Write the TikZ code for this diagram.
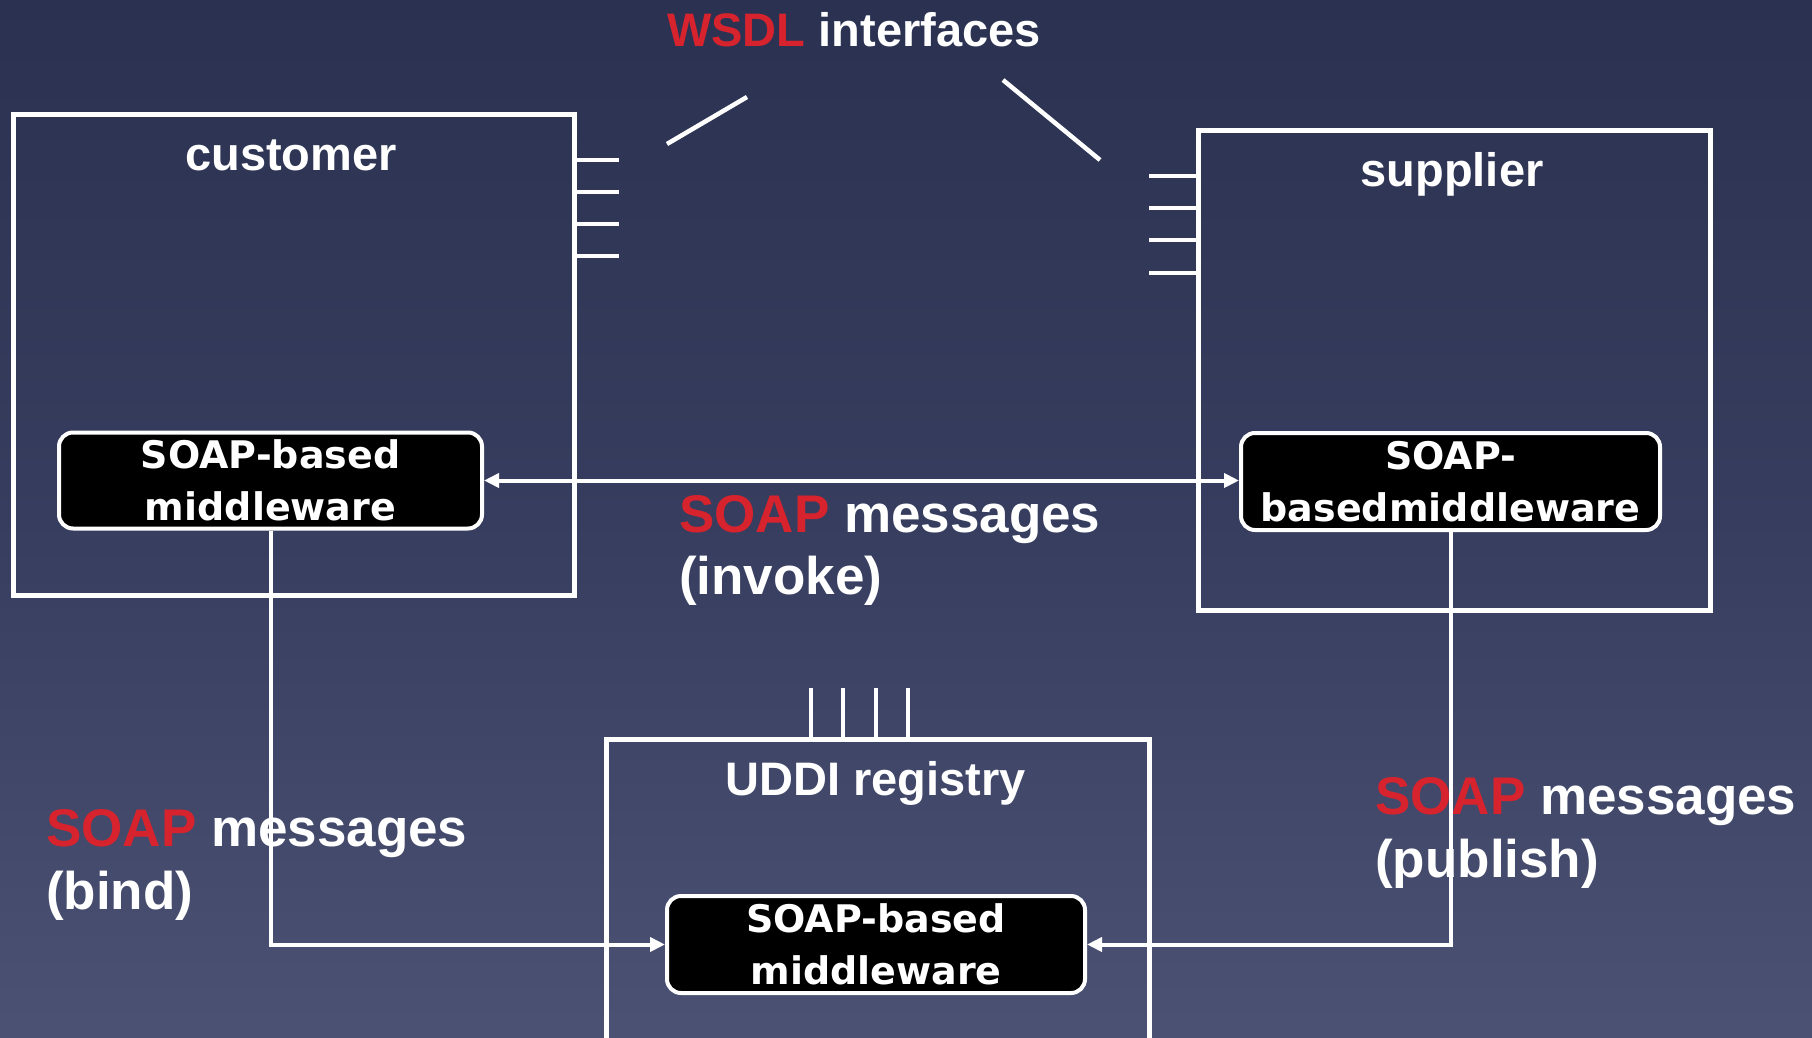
\documentclass[tikz,border=0pt]{standalone}
\usepackage{fontspec}
\setmainfont{Liberation Sans}
\newfontfamily\mwfont{DejaVu Sans}
\usetikzlibrary{arrows.meta}
\definecolor{soapred}{RGB}{215,35,45}
\definecolor{bgtop}{RGB}{32,39,68}
\definecolor{bgmid}{RGB}{54,61,94}
\definecolor{bgbot}{RGB}{96,102,136}
\pgfdeclareverticalshading{bgshade}{100bp}{color(0bp)=(bgbot); color(50bp)=(bgmid); color(100bp)=(bgtop)}
\tikzset{
  sysbox/.style={draw=white, line width=5pt, inner sep=0pt, anchor=north west},
  tick/.style={draw=white, line width=4.5pt},
  mwbox/.style={draw=white, fill=black, line width=4pt, rounded corners=14pt,
    text=white, align=center, inner sep=0pt,
    font=\mwfont\bfseries\fontsize{38}{52}\selectfont},
  conn/.style={draw=white, line width=4pt, >={Triangle[length=15pt,width=14pt]}},
  title/.style={text=white, inner sep=0pt, font=\bfseries\fontsize{47}{56}\selectfont},
  msg/.style={text=white, inner sep=0pt, anchor=base west, font=\bfseries\fontsize{53}{62}\selectfont}
}
\begin{document}
\begin{tikzpicture}[x=1pt,y=-1pt]
  \useasboundingbox (0,0) rectangle (1812,1038);
  \shade[shading=bgshade] (0,0) rectangle (1812,1038);
  \clip (0,0) rectangle (1812,1038);

  % heading and its two pointer strokes
  \node[title, anchor=base west] (wsdl) at (667,47) {\textcolor{soapred}{WSDL} interfaces};
  \coordinate (pl1) at (667,144);
  \coordinate (pl2) at (747,97);
  \coordinate (pr1) at (1003,80);
  \coordinate (pr2) at (1100,160);
  \draw[tick] (pl1) -- (pl2);
  \draw[tick] (pr1) -- (pr2);

  % customer
  \node[sysbox, minimum width=561pt, minimum height=481pt] (cust) at (11,112) {};
  \node[title, anchor=base] (custlbl) at (291,170) {customer};
  \foreach \y in {160,192,224,256}
    \draw[tick] (572,\y) -- (619,\y);

  % supplier
  \node[sysbox, minimum width=512pt, minimum height=480pt] (supp) at (1196,128) {};
  \node[title, anchor=base] (supplbl) at (1452,186) {supplier};
  \foreach \y in {176,208,240,273}
    \draw[tick] (1196,\y) -- (1149,\y);

  % UDDI registry (runs off the bottom edge)
  \node[sysbox, minimum width=543pt, minimum height=400pt] (uddi) at (604,737) {};
  \node[title, anchor=base] (uddilbl) at (875.5,795) {UDDI registry};
  \foreach \x in {811,843,876,908}
    \draw[tick] (\x,737) -- (\x,688);

  % middleware boxes
  \node[mwbox, minimum width=423pt, minimum height=96pt] (cmw) at (270.5,480.5) {SOAP-based\\middleware};
  \node[mwbox, minimum width=419pt, minimum height=97pt] (smw) at (1450.5,481.5) {SOAP-\\basedmiddleware};
  \node[mwbox, minimum width=418pt, minimum height=97pt] (umw) at (876,944.5) {SOAP-based\\middleware};

  % message labels
  \node[msg] (invk1) at (679,532) {\textcolor{soapred}{SOAP} messages};
  \node[msg] (invk2) at (679,594) {(invoke)};
  \node[msg] (bind1) at (46,846) {\textcolor{soapred}{SOAP} messages};
  \node[msg] (bind2) at (46,909) {(bind)};
  \node[msg] (publ1) at (1375,814) {\textcolor{soapred}{SOAP} messages};
  \node[msg] (publ2) at (1375,877) {(publish)};

  % connectors
  \draw[conn, <->] (cmw.east) -- (cmw.east -| smw.west);
  \draw[conn, ->] (cmw.south) |- (umw.west);
  \draw[conn, ->] (smw.south) |- (umw.east);
\end{tikzpicture}
\end{document}
